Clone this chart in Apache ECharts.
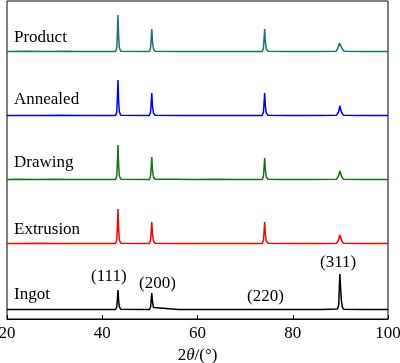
<!DOCTYPE html>
<html><head><meta charset="utf-8">
<script src="https://cdn.jsdelivr.net/npm/echarts@6/dist/echarts.min.js"></script>
<style>html,body{margin:0;padding:0;background:#fff}#c{width:400px;height:363px}</style>
</head><body><div id="c"></div>
<script>
// sample names (bottom to top) and stacking offsets
const names = ['Ingot', 'Extrusion', 'Drawing', 'Annealed', 'Product'];
const offsets = [9, 75, 139, 203, 267];
const colors = ['#000000', '#ff0000', '#1b6e1b', '#0000ff', '#1a746c'];
const xTicks = [20, 40, 60, 80, 100];
const peakLabels = ['(111)', '(200)', '(220)', '(311)'];

// intensity patterns [2θ, intensity]
const ingot = [[20,0.5],[24,0.6],[28,0.4],[32,0.6],[36,0.5],[38.8,0.5],[39,1.5],[39.2,0.5],[42.8,0.6],[43.05,3],[43.2,12],[43.3,20],[43.45,9],[43.6,3],[43.9,0.8],[49.9,0.6],[50.15,3],[50.3,12],[50.4,17],[50.55,8],[50.75,2.5],[51.1,0.8],[56,0.5],[62,0.5],[68,0.5],[73.8,0.5],[74.1,1.8],[74.4,0.5],[80,0.5],[86,0.6],[89.4,1],[89.65,5],[89.8,25],[89.9,36],[90.05,22],[90.2,10],[90.4,3],[90.7,0.8],[94.9,0.5],[95.2,1.5],[95.5,0.5],[100,0.5]];
const extrusion = [[20,0.6],[23,0.4],[27,0.7],[30,0.5],[34,0.6],[38,0.4],[42.8,0.6],[43.05,4],[43.2,20],[43.3,35],[43.45,14],[43.6,4],[43.9,0.8],[49.9,0.6],[50.15,4],[50.3,14],[50.4,22],[50.55,10],[50.75,3],[51.1,0.8],[56,0.5],[62,0.6],[68,0.5],[73.6,0.6],[73.85,4],[74.0,14],[74.1,22],[74.25,10],[74.45,3],[74.8,0.8],[80,0.5],[86,0.6],[89.2,0.8],[89.6,4],[89.9,9],[90.2,4],[90.6,0.8],[94.9,0.5],[95.2,1.8],[95.5,0.5],[100,0.5]];
const drawing = [[20,0.5],[22,0.7],[26,0.4],[30,0.7],[33,0.4],[37,0.6],[42.8,0.6],[43.05,4],[43.2,20],[43.3,35],[43.45,14],[43.6,4],[43.9,0.8],[49.9,0.6],[50.15,4],[50.3,15],[50.4,23],[50.55,10],[50.75,3],[51.1,0.8],[55,0.7],[59,0.4],[64,0.7],[68,0.5],[73.6,0.6],[73.85,4],[74.0,14],[74.1,22],[74.25,10],[74.45,3],[74.8,0.8],[78,0.5],[84,0.6],[89.2,0.8],[89.6,4],[89.9,9],[90.2,4],[90.6,0.8],[94.9,0.5],[95.2,1.8],[95.5,0.5],[100,0.5]];
const annealed = [[20,0.5],[23,0.6],[27,0.4],[31,0.7],[35,0.5],[39,0.6],[42.8,0.6],[43.05,4],[43.2,21],[43.3,36],[43.45,14],[43.6,4],[43.9,0.8],[49.9,0.6],[50.15,4],[50.3,15],[50.4,23],[50.55,10],[50.75,3],[51.1,0.8],[56,0.6],[61,0.4],[66,0.6],[70,0.5],[73.6,0.6],[73.85,4],[74.0,15],[74.1,23],[74.25,10],[74.45,3],[74.8,0.8],[79,0.5],[85,0.6],[89.2,0.8],[89.6,4],[89.9,10],[90.2,4],[90.6,0.8],[94.9,0.5],[95.2,1.5],[95.5,0.5],[100,0.5]];
const product = [[20,0.5],[24,0.7],[28,0.5],[32,0.7],[36,0.5],[39,0.6],[42.8,0.6],[43.05,4],[43.2,22],[43.3,37],[43.45,15],[43.6,4],[43.9,0.8],[49.9,0.6],[50.15,4],[50.3,15],[50.4,23],[50.55,10],[50.75,3],[51.1,0.8],[56,0.5],[62,0.6],[67,0.5],[71,0.6],[73.6,0.6],[73.85,4],[74.0,15],[74.1,23],[74.25,10],[74.45,3],[74.8,0.8],[79,0.5],[85,0.6],[89.1,0.8],[89.5,4],[89.8,9],[89.9,10],[90.1,7],[90.4,3],[90.8,0.8],[94.9,0.5],[95.2,2],[95.5,0.5],[100,0.5]];
const patterns = [ingot, extrusion, drawing, annealed, product];

const font = '"Liberation Serif","Times New Roman",serif';
const chart = echarts.init(document.getElementById('c'));

const series = patterns.map((p, i) => ({
  type: 'line', name: names[i], showSymbol: false, symbol: 'none', animation: false,
  lineStyle: { color: colors[i], width: 1.5 },
  data: p.map(d => [d[0], d[1] + offsets[i]])
}));

const graphic = names.map((n, i) => ({
  type: 'text', left: 14, top: [286, 221, 154, 91, 29][i],
  style: { text: n, font: '17px ' + font, fill: '#000' }
})).concat(peakLabels.map((t, i) => ({
  type: 'text', left: [91, 139, 247, 320][i], top: [268, 275, 288, 254][i],
  style: { text: t, font: '17px ' + font, fill: '#000' }
})));

chart.setOption({
  animation: false,
  grid: { left: 7, right: 12, top: 1, bottom: 44, show: true, borderColor: '#000', borderWidth: 1,
          outerBoundsMode: 'none', containLabel: false },
  xAxis: {
    type: 'value', min: xTicks[0], max: xTicks[xTicks.length - 1], interval: 20,
    axisLine: { lineStyle: { color: '#000', width: 1 } },
    axisTick: { inside: true, length: 4, lineStyle: { color: '#000' } },
    splitLine: { show: false },
    axisLabel: { color: '#000', fontSize: 17, fontFamily: font, margin: 6 },
    name: '{n|2}{i|θ}{n|/(°)}', nameLocation: 'middle', nameGap: 25,
    nameTextStyle: { rich: {
      n: { fontSize: 17, fontFamily: font, color: '#000' },
      i: { fontSize: 17, fontFamily: font, fontStyle: 'italic', color: '#000' } } }
  },
  yAxis: { type: 'value', min: 0, max: 318, show: false },
  series: series,
  graphic: graphic
});
</script></body></html>
